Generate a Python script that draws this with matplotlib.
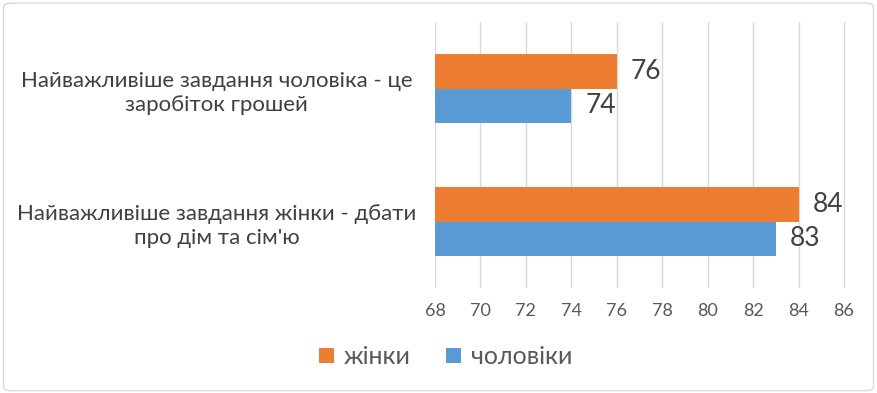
import matplotlib.pyplot as plt
from matplotlib.patches import FancyBboxPatch

categories = ['Найважливіше завдання жінки - дбати\nпро дім та сім\'ю',
              'Найважливіше завдання чоловіка - це\nзаробіток грошей']
women = [84, 76]
men = [83, 74]
series_names = ['жінки', 'чоловіки']
xticks = list(range(68, 87, 2))

plt.rcParams['font.family'] = ['Lato', 'DejaVu Sans']

fig = plt.figure(figsize=(8.77, 3.93), dpi=100)
ax = fig.add_axes([0.496, 0.267, 0.4715, 0.677])

orange = '#ED7D31'
blue = '#5B9BD5'
h = 0.26
pos = list(range(len(categories)))
b1 = ax.barh([p + h / 2 for p in pos], [v - 68 for v in women], left=68, height=h,
             color=orange, label=series_names[0], zorder=3)
b2 = ax.barh([p - h / 2 for p in pos], [v - 68 for v in men], left=68, height=h,
             color=blue, label=series_names[1], zorder=3)

for bars, vals in ((b1, women), (b2, men)):
    for bar, v in zip(bars, vals):
        ax.annotate(str(v), (v, bar.get_y() + bar.get_height() / 2),
                    xytext=(10, 0), textcoords='offset points',
                    va='center', ha='left', fontsize=19, color='#404040')

ax.set_xlim(68, 86.2)
ax.set_ylim(-0.5, 1.5)
ax.set_xticks(xticks)
ax.set_yticks(pos)
ax.set_yticklabels(categories, ha='center', multialignment='center',
                   fontsize=16, color='#404040', linespacing=1.3)
ax.tick_params(axis='y', length=0, pad=157)
ax.tick_params(axis='x', length=0, labelsize=13, labelcolor='#595959', pad=11)
ax.grid(axis='x', color='#D9D9D9', linewidth=1, zorder=0)
for s in ax.spines.values():
    s.set_visible(False)

fig.legend(handles=[b1, b2], loc='center', bbox_to_anchor=(0.508, 0.092), ncol=2,
           frameon=False, fontsize=18, labelcolor='#595959', handlelength=0.6,
           handleheight=0.6, handletextpad=0.4, columnspacing=1.4)

fig.patches.append(FancyBboxPatch((0.004, 0.006), 0.992, 0.986, boxstyle='round,pad=0,rounding_size=0.01',
                                  transform=fig.transFigure, facecolor='none',
                                  edgecolor='#D9D9D9', linewidth=1))

fig.savefig('out.png', dpi=100)
